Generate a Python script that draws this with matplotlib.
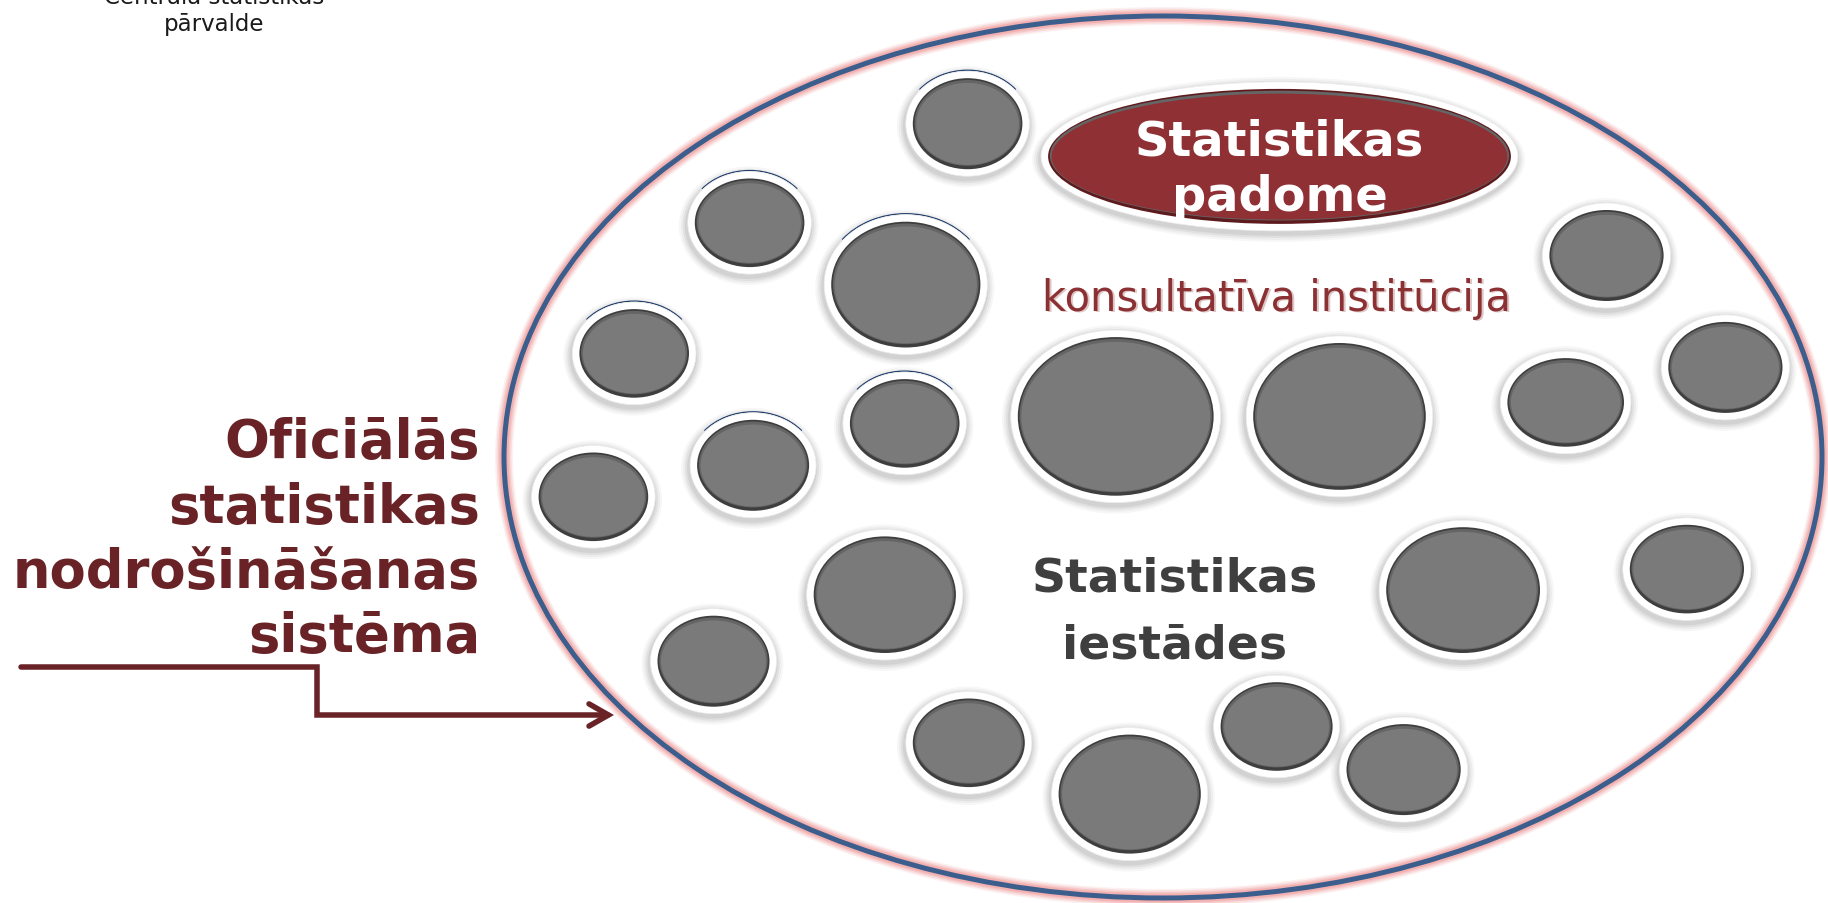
import matplotlib
matplotlib.use("Agg")
import matplotlib.pyplot as plt
import matplotlib.transforms as mtransforms
from matplotlib.patches import Ellipse, Arc, FancyArrowPatch
from matplotlib.path import Path

# ---------------- data (pixel positions) ----------------
# grey "institution" bubbles: centre x, centre y, outer half-width, outer half-height
bubble_x = [967.6, 749.6, 905.8, 634.2, 904.7, 753.1, 593.4, 884.8, 713.5, 968.8,
            1129.7, 1276.6, 1403.6, 1115.7, 1339.5, 1463.1, 1686.9, 1565.7, 1725.4, 1606.5]
bubble_y = [124.7, 223.8, 285.6, 354.4, 424.4, 466.3, 497.8, 595.7, 662.2, 743.8,
            795.1, 727.5, 770.6, 417.4, 417.4, 591.1, 570.1, 403.4, 368.4, 256.5]
bubble_rx = [61.8, 61.8, 81.6, 61.8, 61.8, 63.0, 61.8, 78.1, 63.0, 63.0,
             78.1, 63.0, 64.1, 104.9, 93.3, 83.9, 64.1, 65.3, 64.1, 64.1]
bubble_ry = [52.5, 51.3, 69.9, 51.3, 51.3, 52.5, 51.3, 65.3, 52.5, 51.3,
             66.5, 51.3, 52.5, 86.3, 80.4, 69.9, 51.3, 51.3, 52.5, 52.5]
bubble_blue_top = [True, True, True, True, True, True, False, False, False, False,
                   False, False, False, False, False, False, False, False, False, False]

council_label = ["Statistikas", "padome"]
council_sub = "konsultatīva institūcija"
institutions_label = ["Statistikas", "iestādes"]
system_label = ["Oficiālās", "statistikas", "nodrošināšanas", "sistēma"]
csb_label = ["Centrālā statistikas", "pārvalde"]

# ---------------- figure ----------------
W, H = 1828, 904
fig = plt.figure(figsize=(W / 100, H / 100), dpi=100)
ax = fig.add_axes([0, 0, 1, 1])
ax.set_xlim(0, W)
ax.set_ylim(H, 0)
ax.axis("off")
fig.patch.set_facecolor("white")

PT = 0.72  # points per pixel at dpi 100

# big system ellipse with a soft pink glow
ecx, ecy, ea, eb = 1163, 458, 659, 441
for lw, al in [(18, 0.14), (15, 0.22), (12, 0.32), (9, 0.5)]:
    ax.add_patch(Ellipse((ecx, ecy), 2 * ea, 2 * eb, fill=False, ec="#f09a9a",
                         lw=lw * PT, alpha=al, zorder=1))
ax.add_patch(Ellipse((ecx, ecy), 2 * ea, 2 * eb, fill=False, ec="#3b5e8c",
                     lw=5 * PT, zorder=2))


def bubble(cx, cy, rx, ry, inner="#7a7a7a", edge="#3e3e3e", ring=7, blue=False, z=3):
    # soft shadow
    for k, al in [(8, 0.03), (6, 0.04), (4, 0.05), (2, 0.06)]:
        ax.add_patch(Ellipse((cx - 1, cy + 3), 2 * (rx + k), 2 * (ry + k), fc="black",
                             ec="none", alpha=al, zorder=z))
    if blue:
        ax.add_patch(Arc((cx, cy - 0.5), 2 * rx + 1, 2 * ry + 1, theta1=215, theta2=325,
                         ec="#23406e", lw=1.3 * PT, zorder=z + 0.1))
    ax.add_patch(Ellipse((cx, cy), 2 * rx, 2 * ry, fc="white", ec="#ececec",
                         lw=0.5, zorder=z + 0.2))
    ax.add_patch(Ellipse((cx, cy), 2 * (rx - ring), 2 * (ry - ring), fc=edge,
                         ec="none", zorder=z + 0.3))
    ax.add_patch(Ellipse((cx, cy - 0.8), 2 * (rx - ring - 1.8), 2 * (ry - ring - 2.6),
                         fc="#656565", ec="none", zorder=z + 0.35))
    ax.add_patch(Ellipse((cx, cy + 0.2), 2 * (rx - ring - 3.5), 2 * (ry - ring - 4.5),
                         fc=inner, ec="none", zorder=z + 0.4))


for x, y, rx, ry, bl in zip(bubble_x, bubble_y, bubble_rx, bubble_ry, bubble_blue_top):
    bubble(x, y, rx, ry, blue=bl)

# statistical council ellipse
bubble(1279.5, 157.4, 238.4, 74.5, inner="#8f3034", edge="#5e1b1e", ring=7)

# ---------------- texts ----------------
font = "DejaVu Sans"
ax.text(1279.5, 155, council_label[0], color="white", fontsize=34.5, fontweight="bold",
        family=font, ha="center", va="baseline", zorder=10)
ax.text(1279.5, 211, council_label[1], color="white", fontsize=34.5, fontweight="bold",
        family=font, ha="center", va="baseline", zorder=10)
shadow = ax.transData + mtransforms.ScaledTranslation(1.5 / 100, -1.5 / 100, fig.dpi_scale_trans)
ax.text(1277, 311, council_sub, color="#c9a0a0", fontsize=30, family=font,
        ha="center", va="baseline", zorder=9, alpha=0.6, transform=shadow)
ax.text(1277, 311, council_sub, color="#8b3033", fontsize=30, family=font,
        ha="center", va="baseline", zorder=10)

ax.text(1175, 592, institutions_label[0], color="#3f3f3f", fontsize=34, fontweight="bold",
        family=font, ha="center", va="baseline", zorder=10)
ax.text(1175, 659, institutions_label[1], color="#3f3f3f", fontsize=34, fontweight="bold",
        family=font, ha="center", va="baseline", zorder=10)

for line, yb in zip(system_label, [458, 523.5, 587.6, 651.7]):
    ax.text(480, yb, line, color="#692327", fontsize=38, fontweight="bold",
            family=font, ha="right", va="baseline", zorder=10)

ax.text(214.5, 4, csb_label[0], color="#1a1a1a", fontsize=16.5, family=font,
        ha="center", va="baseline", zorder=10)
ax.text(214.5, 31.5, csb_label[1], color="#1a1a1a", fontsize=16.5, family=font,
        ha="center", va="baseline", zorder=10)

# ---------------- elbow arrow ----------------
arrow_path = Path([(21, 668), (317, 668), (317, 716), (614, 716)],
                  [Path.MOVETO, Path.LINETO, Path.LINETO, Path.LINETO])
ax.add_patch(FancyArrowPatch(path=arrow_path, arrowstyle="->,head_length=14,head_width=8",
                             color="#692327", lw=5.5 * PT, joinstyle="miter",
                             capstyle="round", zorder=6))

fig.savefig("out.png", dpi=100, facecolor="white")
